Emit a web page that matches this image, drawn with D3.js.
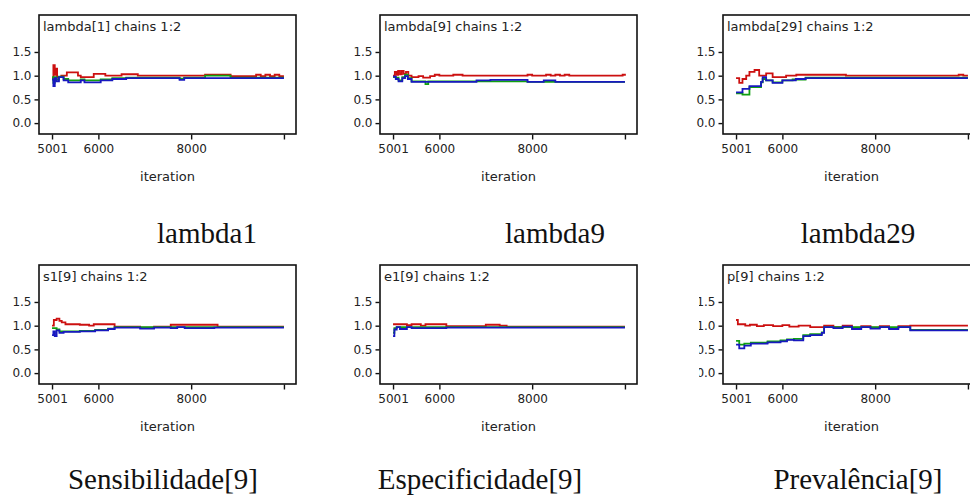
<!DOCTYPE html>
<html><head><meta charset="utf-8">
<script src="https://cdn.jsdelivr.net/npm/d3@7"></script>
<style>
html,body{margin:0;padding:0;background:#fff;}
svg{display:block;}
</style></head>
<body>
<svg id="chart" width="970" height="498"></svg>
<script>
// ---------- data ----------
const panelTitles = ["lambda[1] chains 1:2","lambda[9] chains 1:2","lambda[29] chains 1:2",
                     "s1[9] chains 1:2","e1[9] chains 1:2","p[9] chains 1:2"];
const captions = ["lambda1","lambda9","lambda29","Sensibilidade[9]","Especificidade[9]","Prevalência[9]"];
const xTickValues = [5001, 6000, 8000, 10000];
const xTickLabels = ["5001", "6000", "8000", ""];
const yTickValues = [0, 0.5, 1.0, 1.5];
const yTickLabels = ["0.0", "0.5", "1.0", "1.5"];
const xLabel = "iteration";

// [iteration, value] change points (step traces)
const lambda1Red = [[5001,0.95],[5030,1.22],[5060,1.02],[5085,1.15],[5110,0.97],[5200,1.0],[5320,1.07],[5560,1.0],[5620,0.97],[5900,1.04],[6150,1.0],[6500,1.03],[6850,1.0],[8300,1.02],[8850,0.99],[9400,1.02],[9500,0.99],[9600,1.02],[9700,0.99],[9800,1.02],[9900,0.99],[10000,0.99]];
const lambda1Green = [[5001,0.97],[5030,0.85],[5060,0.97],[5100,0.92],[5150,0.98],[5250,0.93],[5350,0.9],[5620,0.92],[5700,0.9],[6050,0.92],[6300,0.95],[6600,0.96],[7750,0.94],[7850,0.96],[8300,1.0],[8850,0.96],[10000,0.96]];
const lambda1Blue = [[5001,0.92],[5030,0.78],[5060,0.95],[5100,0.88],[5150,0.97],[5250,0.9],[5350,0.86],[5620,0.9],[5700,0.86],[6050,0.9],[6300,0.93],[6600,0.95],[7750,0.91],[7850,0.95],[10000,0.95]];

const lambda9Red = [[5001,1.0],[5040,1.08],[5080,1.02],[5110,1.1],[5150,1.03],[5190,1.1],[5230,1.04],[5280,1.08],[5330,1.0],[5400,0.97],[5550,0.99],[5650,0.96],[5800,0.99],[5900,1.02],[6000,1.0],[6300,1.02],[6500,1.0],[7900,1.02],[8000,1.0],[8300,1.02],[8400,1.0],[8500,1.02],[8600,1.0],[8700,1.02],[8800,1.0],[9950,1.02],[10000,1.0]];
const lambda9Green = [[5001,0.97],[5060,0.96],[5120,0.9],[5200,0.97],[5260,1.02],[5320,0.95],[5400,0.88],[5700,0.82],[5760,0.88],[7900,0.87],[10000,0.87]];
const lambda9Blue = [[5001,0.98],[5060,0.93],[5120,0.88],[5200,0.95],[5260,0.99],[5320,0.93],[5400,0.87],[6800,0.9],[7100,0.91],[7900,0.87],[8250,0.9],[8500,0.87],[10000,0.87]];

const lambda29Red = [[5001,0.95],[5070,0.85],[5140,0.93],[5220,1.0],[5290,1.08],[5400,1.12],[5500,1.0],[5650,1.05],[5790,0.97],[6080,1.0],[6300,1.02],[7370,1.0],[9800,1.02],[9900,1.0],[10000,1.0]];
const lambda29Green = [[5001,0.63],[5140,0.6],[5290,0.76],[5540,0.86],[5575,0.93],[5650,0.9],[5790,0.86],[6000,0.9],[6220,0.92],[6500,0.96],[10000,0.96]];
const lambda29Blue = [[5001,0.65],[5140,0.72],[5290,0.78],[5540,0.87],[5575,0.97],[5650,0.9],[5790,0.85],[6000,0.9],[6290,0.93],[6500,0.95],[10000,0.95]];

const sens9Red = [[5001,1.0],[5040,1.12],[5100,1.15],[5160,1.1],[5210,1.07],[5290,1.03],[5600,1.02],[5800,1.0],[5900,1.03],[6350,0.98],[6900,0.96],[7200,0.98],[7560,1.02],[8570,0.98],[10000,0.98]];
const sens9Green = [[5001,0.95],[5100,0.92],[5160,0.88],[5250,0.88],[5600,0.89],[5930,0.91],[6210,0.94],[6350,0.97],[10000,0.97]];
const sens9Blue = [[5001,0.8],[5030,0.88],[5060,0.78],[5100,0.9],[5160,0.85],[5250,0.87],[5600,0.88],[5930,0.9],[6210,0.93],[6350,0.96],[6900,0.94],[7200,0.96],[7560,0.95],[7700,0.97],[7860,0.95],[8500,0.96],[10000,0.96]];

const espec9Red = [[5001,1.03],[5300,1.01],[5400,1.03],[5600,1.0],[5700,1.03],[6150,0.99],[7000,1.02],[7300,1.0],[7450,0.98],[10000,0.98]];
const espec9Green = [[5001,0.85],[5030,0.95],[5080,0.97],[10000,0.97]];
const espec9Blue = [[5001,0.78],[5030,0.92],[5080,0.97],[5150,0.93],[5300,0.97],[5400,0.95],[6150,0.96],[10000,0.96]];

const prev9Red = [[5001,1.12],[5040,1.03],[5200,1.0],[5300,1.02],[5450,0.99],[5600,1.01],[5800,0.99],[6000,1.01],[6150,0.98],[6350,1.0],[6600,0.97],[6900,1.0],[7100,0.97],[7300,1.0],[7500,0.96],[7700,0.99],[7900,0.96],[8100,0.99],[8300,0.95],[8500,0.99],[8757,1.0],[10000,1.0]];
const prev9Green = [[5001,0.68],[5070,0.6],[5180,0.62],[5320,0.64],[5680,0.67],[5960,0.69],[6100,0.71],[6250,0.72],[6450,0.8],[6600,0.82],[6850,0.86],[6900,0.97],[8757,0.91],[10000,0.91]];
const prev9Blue = [[5001,0.6],[5070,0.52],[5180,0.58],[5320,0.62],[5680,0.65],[5960,0.67],[6100,0.7],[6250,0.69],[6450,0.78],[6600,0.8],[6850,0.85],[6900,0.97],[7100,0.95],[7300,0.98],[7500,0.93],[7700,0.97],[7900,0.94],[8100,0.97],[8300,0.93],[8500,0.97],[8757,0.9],[10000,0.9]];

const panelSeries = [
  [lambda1Red, lambda1Green, lambda1Blue],
  [lambda9Red, lambda9Green, lambda9Blue],
  [lambda29Red, lambda29Green, lambda29Blue],
  [sens9Red, sens9Green, sens9Blue],
  [espec9Red, espec9Green, espec9Blue],
  [prev9Red, prev9Green, prev9Blue]
];
const chainColors = ["#cc1010", "#10a010", "#1818c0"];

// ---------- layout ----------
const colLeft = [39, 380, 723];
const rowTop = [15, 265];
const boxW = 257, boxH = 119;
const captionX = [207, 555, 858, 163, 480, 858];
const captionY = [243, 243, 243, 489, 489, 489];

const svg = d3.select("#chart");

const defs = svg.append("defs");
defs.append("clipPath").attr("id","clipP6")
  .append("rect").attr("x",699).attr("y",250).attr("width",300).attr("height",250);

panelSeries.forEach((series, i) => {
  const col = i % 3, row = Math.floor(i / 3);
  const x0 = colLeft[col], y0 = rowTop[row];
  const x = d3.scaleLinear().domain([4720, 10260]).range([x0, x0 + boxW]);
  const y = d3.scaleLinear().domain([-0.23, 2.28]).range([y0 + boxH, y0]);
  const g = svg.append("g");

  // traces
  const line = d3.line().x(d => x(d[0])).y(d => y(d[1])).curve(d3.curveStepAfter);
  [0, 1, 2].forEach(k => {
    g.append("path").datum(series[k])
      .attr("d", line)
      .attr("fill", "none")
      .attr("stroke", chainColors[k])
      .attr("stroke-width", 1.8);
  });

  // box
  g.append("rect").attr("x", x0).attr("y", y0).attr("width", boxW).attr("height", boxH)
    .attr("fill", "none").attr("stroke", "#111").attr("stroke-width", 1.6);

  // x axis
  const xAxis = d3.axisBottom(x).tickValues(xTickValues)
    .tickFormat((d, j) => xTickLabels[j]).tickSize(5).tickSizeOuter(0).tickPadding(5);
  const xg = g.append("g").attr("transform", `translate(0,${y0 + boxH + 0.5})`).call(xAxis);
  xg.select(".domain").remove();
  xg.selectAll("line").attr("stroke", "#111").attr("stroke-width", 1.4);
  xg.selectAll("text").attr("font-family", "DejaVu Sans, sans-serif").attr("font-size", 12).attr("fill", "#222");

  // y axis (wrapped so panel 6 labels can be clipped at the image edge)
  const yWrap = g.append("g");
  if (i === 5) yWrap.attr("clip-path", "url(#clipP6)");
  const yAxis = d3.axisLeft(y).tickValues(yTickValues)
    .tickFormat((d, j) => yTickLabels[j]).tickSize(4).tickSizeOuter(0).tickPadding(3);
  const yg = yWrap.append("g").attr("transform", `translate(${x0 - 0.5},0)`).call(yAxis);
  yg.select(".domain").remove();
  yg.selectAll("line").attr("stroke", "#111").attr("stroke-width", 1.4);
  yg.selectAll("text").attr("font-family", "DejaVu Sans, sans-serif").attr("font-size", 12).attr("fill", "#222");

  // title
  g.append("text").attr("x", x0 + 4).attr("y", y0 + 16)
    .attr("font-family", "DejaVu Sans, sans-serif").attr("font-size", 13).attr("fill", "#222")
    .text(panelTitles[i]);

  // axis label
  g.append("text").attr("x", x0 + boxW / 2).attr("y", y0 + boxH + 47)
    .attr("text-anchor", "middle")
    .attr("font-family", "DejaVu Sans, sans-serif").attr("font-size", 13).attr("fill", "#222")
    .text(xLabel);

  // caption
  svg.append("text").attr("x", captionX[i]).attr("y", captionY[i])
    .attr("text-anchor", "middle")
    .attr("font-family", "Liberation Serif, serif").attr("font-size", 29).attr("fill", "#111")
    .text(captions[i]);
});
</script>
</body></html>
